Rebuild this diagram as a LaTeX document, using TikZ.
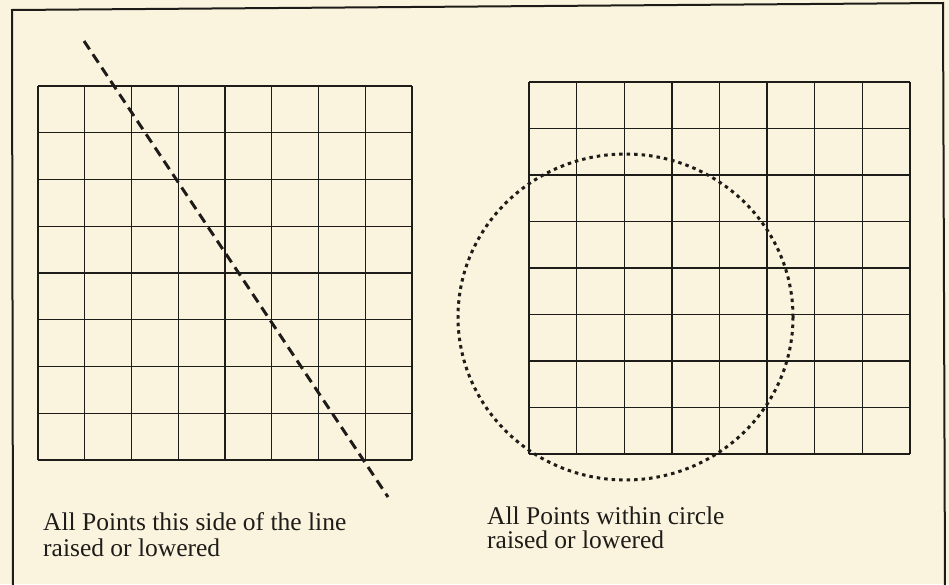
\documentclass[tikz,border=0pt]{standalone}
\usepackage{fontspec}
\setmainfont{Liberation Serif}
\definecolor{paper}{RGB}{250,243,222}
\definecolor{ink}{RGB}{30,28,24}
\tikzset{
  gridline/.style={draw=ink, line width=1.3pt},
  framestyle/.style={draw=ink, line width=2pt},
  cutline/.style={draw=ink, line width=3pt, dash pattern=on 10pt off 6pt},
  circline/.style={draw=ink, line width=3pt, dash pattern=on 3.5pt off 4pt},
  caption/.style={anchor=base west, inner sep=0pt, text=ink, font=\fontsize{25.5}{26}\selectfont}
}
\begin{document}
\begin{tikzpicture}[x=1pt,y=-1pt]
  \useasboundingbox (0,0) rectangle (949,584);
  \fill[paper] (0,0) rectangle (949,584);
  % frame (open at the bottom edge of the scan)
  \draw[framestyle] (13,590) -- (12,10) -- (943,3) -- (945,590);
  % left grid
  \foreach \i in {0,...,8} {
    \draw[gridline] ({38+\i*46.75},86) -- ({38+\i*46.75},460);
    \draw[gridline] (38,{86+\i*46.75}) -- (412,{86+\i*46.75});
  }
  % right grid
  \foreach \i in {0,...,8} {
    \draw[gridline] ({529+\i*47.625},82) -- ({529+\i*47.625},454);
    \draw[gridline] (529,{82+\i*46.5}) -- (910,{82+\i*46.5});
  }
  % dashed dividing line
  \coordinate (lineA) at (84,41);
  \coordinate (lineB) at (388,497);
  \draw[cutline] (lineA) -- (lineB);
  % dotted circle
  \coordinate (circC) at (625.5,317);
  \draw[circline] (circC) ellipse [x radius=167.5, y radius=163];
  % captions
  \node[caption] (leftA) at (43,530) {All Points this side of the line};
  \node[caption] (leftB) at (43,556) {raised or lowered};
  \node[caption] (rightA) at (487,524) {All Points within circle};
  \node[caption] (rightB) at (487,548) {raised or lowered};
\end{tikzpicture}
\end{document}
